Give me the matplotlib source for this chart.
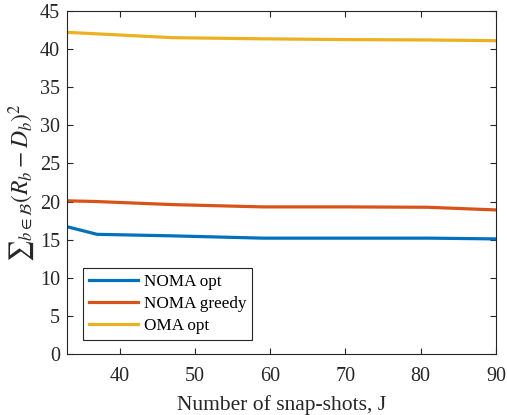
import matplotlib
matplotlib.use("Agg")
import matplotlib.pyplot as plt

plt.rcParams['font.family'] = ['Liberation Serif', 'DejaVu Serif']
plt.rcParams['mathtext.fontset'] = 'stix'

# data
snapshots = [33, 37, 47, 59, 70, 81, 90]
noma_opt = [16.7, 15.7, 15.5, 15.2, 15.2, 15.2, 15.1]
noma_greedy = [20.1, 20.0, 19.6, 19.3, 19.3, 19.25, 18.9]
oma_opt = [42.2, 42.0, 41.5, 41.35, 41.25, 41.2, 41.1]

fig = plt.figure(figsize=(5.07, 4.15), dpi=100)
ax = fig.add_axes([67/507, 1 - 354/415, (496-67)/507, (354-11)/415])

ax.plot(snapshots, noma_opt, color='#0072BD', lw=2.3, label='NOMA opt')
ax.plot(snapshots, noma_greedy, color='#D95319', lw=2.3, label='NOMA greedy')
ax.plot(snapshots, oma_opt, color='#EDB120', lw=2.3, label='OMA opt')

ax.set_xlim(33, 90)
ax.set_ylim(0, 45)
ax.set_xticks([40, 50, 60, 70, 80, 90])
ax.set_yticks(range(0, 46, 5))
ax.tick_params(direction='in', top=True, right=True, labelsize=14.5, colors='#262626',
               length=4, pad=5)
ax.tick_params(axis='x', pad=9)
for s in ax.spines.values():
    s.set_color('#262626')
    s.set_linewidth(0.8)

ax.set_xlabel('Number of snap-shots, J', fontsize=15.5, color='#262626', labelpad=7)
ax.set_ylabel('$\u2211_{b\\in\\mathcal{B}}(R_b-D_b)^2$', fontsize=17, color='#262626', labelpad=2)

leg = ax.legend(loc='lower left', bbox_to_anchor=(0.037, 0.041), borderaxespad=0,
                fontsize=12.3, fancybox=False, edgecolor='#262626', framealpha=1,
                handlelength=2.9, handletextpad=0.3, borderpad=0.35, labelspacing=0.35)
leg.get_frame().set_linewidth(0.8)

fig.savefig('out.png', dpi=100)
